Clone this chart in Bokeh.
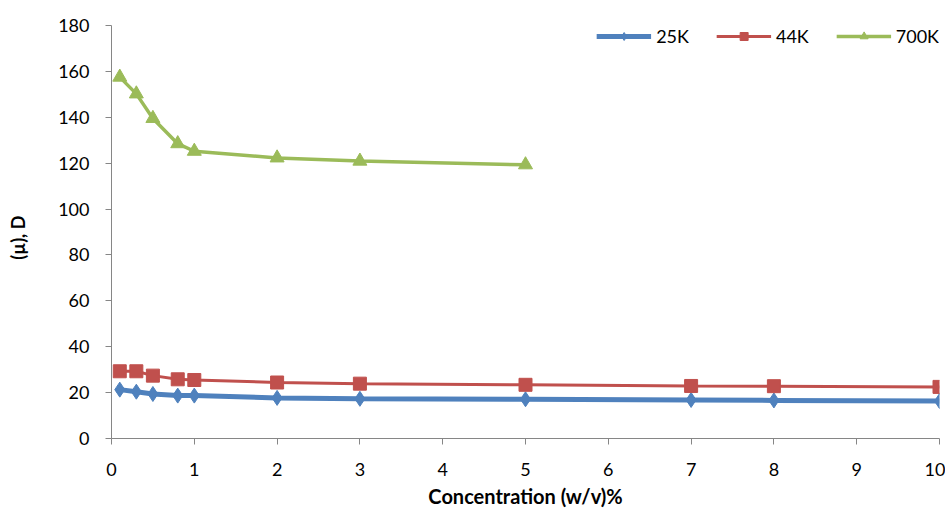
import math
from bokeh.plotting import figure
from bokeh.models import Range1d, FixedTicker
from bokeh.layouts import row
from bokeh.core.properties import value
from bokeh.embed import file_html
from bokeh.resources import INLINE

# Data
x_25k = [0.1, 0.3, 0.5, 0.8, 1, 2, 3, 5, 7, 8, 10]
y_25k = [21.3, 20.4, 19.4, 18.7, 18.7, 17.7, 17.3, 17.1, 16.8, 16.6, 16.3]

x_44k = [0.1, 0.3, 0.5, 0.8, 1, 2, 3, 5, 7, 8, 10]
y_44k = [29.3, 29.3, 27.4, 25.8, 25.5, 24.4, 23.9, 23.4, 22.9, 22.8, 22.5]

x_700k = [0.1, 0.3, 0.5, 0.8, 1, 2, 3, 5]
y_700k = [157.5, 150.2, 139.5, 128.5, 125.2, 122.3, 120.9, 119.3]

x_ticks = [0, 1, 2, 3, 4, 5, 6, 7, 8, 9, 10]
y_ticks = [0, 20, 40, 60, 80, 100, 120, 140, 160, 180]

x_title = "Concentration (w/v)%"
y_title = "(µ), D"

FONT = "Lato"
H = 510
LW = 30  # width of the strip holding the y-axis title

# --- strip with the rotated y-axis title ---
lab = figure(width=LW, height=H, output_backend="svg", toolbar_location=None,
             x_range=Range1d(0, LW), y_range=Range1d(0, H),
             x_axis_location=None, y_axis_location=None,
             min_border=0)
lab.outline_line_color = None
lab.xgrid.grid_line_color = None
lab.ygrid.grid_line_color = None
lab.text(x=[17.5], y=[H - 262], text=[y_title], angle=math.pi / 2,
         text_font=value(FONT), text_font_style="bold", text_font_size="18px",
         text_align="center", text_baseline="middle", text_color="#000000")

# --- main chart ---
p = figure(width=945 - LW, height=H, output_backend="svg", toolbar_location=None,
           x_range=Range1d(0, 10), y_range=Range1d(0, 180),
           min_border_left=111 - LW, min_border_right=6, min_border_top=25,
           min_border_bottom=72)
p.outline_line_color = None
p.xgrid.grid_line_color = None
p.ygrid.grid_line_color = None

for ax in (p.xaxis[0], p.yaxis[0]):
    ax.axis_line_color = "#868686"
    ax.major_tick_line_color = "#868686"
    ax.minor_tick_line_color = None
    ax.major_tick_in = 0
    ax.major_tick_out = 6
    ax.major_label_text_font = FONT
    ax.major_label_text_font_size = "18px"
    ax.major_label_text_color = "#000000"

p.xaxis.ticker = FixedTicker(ticks=x_ticks)
p.yaxis.ticker = FixedTicker(ticks=y_ticks)
p.xaxis.major_label_standoff = 18
p.yaxis.major_label_standoff = 16

p.xaxis.axis_label = x_title
p.xaxis.axis_label_text_font = FONT
p.xaxis.axis_label_text_font_style = "bold"
p.xaxis.axis_label_text_font_size = "20px"
p.xaxis.axis_label_text_color = "#000000"
p.xaxis.axis_label_standoff = 5

series = [
    (x_25k, y_25k, "25K", "#4F81BD", 5, "diamond", 15),
    (x_44k, y_44k, "44K", "#C0504D", 3, "square", 13),
    (x_700k, y_700k, "700K", "#9BBB59", 3.5, "triangle", 14),
]
for xs, ys, name, col, lw, mk, sz in series:
    p.line(xs, ys, line_color=col, line_width=lw, legend_label=name)
    p.scatter(xs, ys, marker=mk, size=sz, fill_color=col, line_color=col,
              legend_label=name)

lg = p.legend[0]
lg.orientation = "horizontal"
lg.location = "top_right"
lg.border_line_color = None
lg.background_fill_alpha = 0
lg.margin = 0
lg.padding = 10
lg.glyph_width = 55
lg.glyph_height = 20
lg.label_standoff = 5
lg.spacing = 27
lg.label_text_font = FONT
lg.label_text_font_size = "18px"
lg.label_text_color = "#000000"

layout = row(lab, p)
open("out.html", "w").write(file_html(layout, INLINE))
